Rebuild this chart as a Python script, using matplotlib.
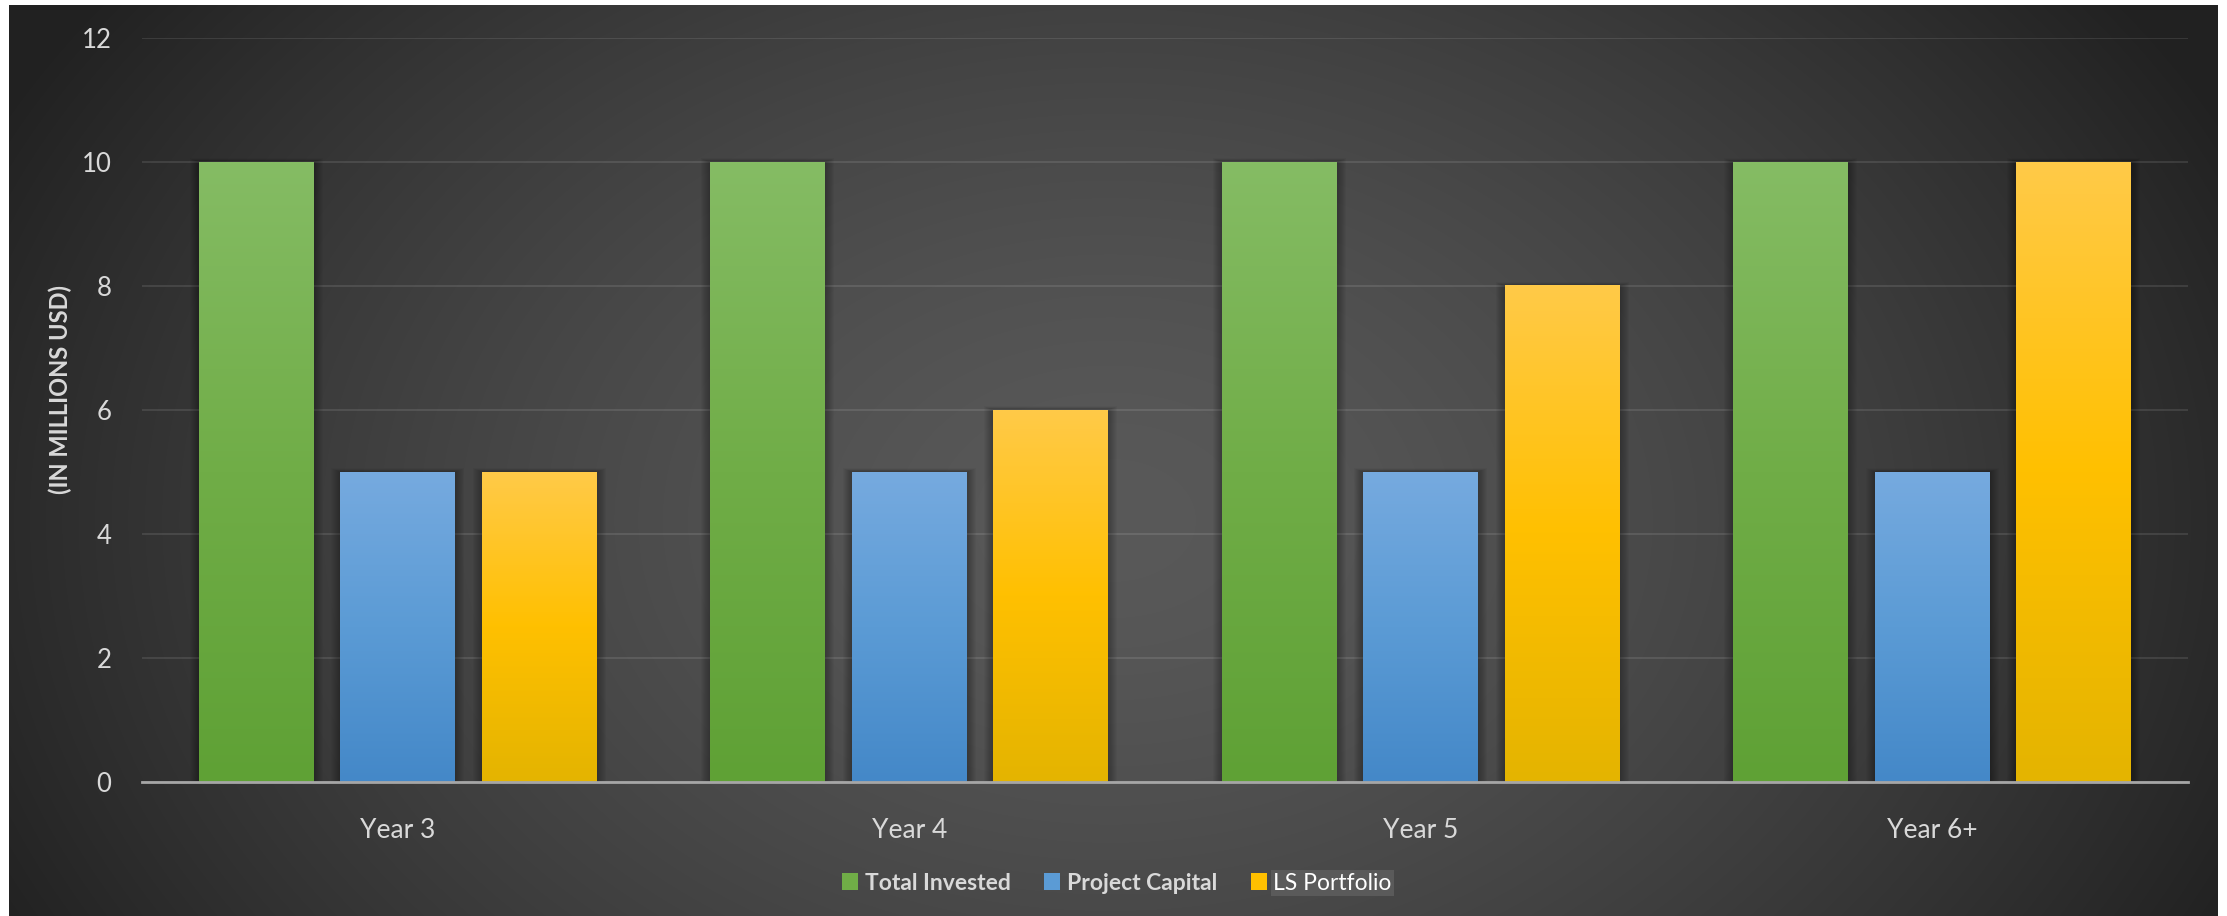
import numpy as np
import matplotlib
matplotlib.use("Agg")
import matplotlib.pyplot as plt
from matplotlib.patches import Rectangle, Patch
from matplotlib.colors import to_rgb

plt.rcParams['font.family'] = ['Lato', 'DejaVu Sans']

# data
categories = ['Year 3', 'Year 4', 'Year 5', 'Year 6+']
series_names = ['Total Invested', 'Project Capital', 'LS Portfolio']
total_invested = [10, 10, 10, 10]
project_capital = [5, 5, 5, 5]
ls_portfolio = [5, 6, 8, 10]
yticks = [0, 2, 4, 6, 8, 10, 12]

# gradient stops per series (top, middle, bottom)
grad_colors = [
    ['#85bc64', '#70ad47', '#5fa135'],
    ['#76aadf', '#5b9bd5', '#4488c8'],
    ['#ffca48', '#ffc000', '#e4b400'],
]
legend_colors = ['#70ad47', '#5b9bd5', '#ffc000']

W, H = 2227, 916
fig = plt.figure(figsize=(W / 100, H / 100), dpi=100, facecolor='white')

# background with radial gradient
bg = fig.add_axes([9 / W, 0, (2218 - 9) / W, (916 - 5) / H])
bg.set_axis_off()
yy, xx = np.mgrid[5:916, 9:2218]
r = np.sqrt(((xx - 1110) / 1250.0) ** 2 + ((yy - 520) / 900.0) ** 2)
f = np.clip(r, 0, 1) ** 1.5
val = (89 - 56 * f) / 255.0
bg.imshow(np.dstack([val, val, val]), aspect='auto', extent=[0, 1, 0, 1])
bg.set_xlim(0, 1)
bg.set_ylim(0, 1)

# plot area
left, right, top, bottom = 142, 2188, 38, 782
ax = fig.add_axes([left / W, 1 - bottom / H, (right - left) / W, (bottom - top) / H])
ax.patch.set_alpha(0)
ax.set_xlim(-0.5, len(categories) - 0.5)
ax.set_ylim(0, 12)

x = np.arange(len(categories))
width = 0.2248
step = 0.2766
px_x = (len(categories)) / (right - left)
px_y = 12.0 / (bottom - top)


def make_grad(stops, n=200):
    c = [np.array(to_rgb(s)) for s in stops]
    t = np.linspace(0, 1, n)[:, None]
    top_half = c[0] + (c[1] - c[0]) * np.clip(t * 2, 0, 1)
    bot_half = c[1] + (c[2] - c[1]) * np.clip(t * 2 - 1, 0, 1)
    g = np.where(t < 0.5, top_half, bot_half)
    return g[:, None, :]


all_values = [total_invested, project_capital, ls_portfolio]
for i, vals in enumerate(all_values):
    bars = ax.bar(x + (i - 1) * step, vals, width, color='none', zorder=3)
    grad = make_grad(grad_colors[i])
    for b in bars:
        bx, bw, bh = b.get_x(), b.get_width(), b.get_height()
        # soft shadow
        for k in range(1, 10):
            ax.add_patch(Rectangle((bx - k * px_x, 0), bw + 2 * k * px_x, bh + k * px_y * 0.4,
                                   facecolor='black', edgecolor='none', alpha=0.03, zorder=2))
        ax.imshow(grad, extent=[bx, bx + bw, 0, bh], aspect='auto', origin='upper',
                  zorder=3, interpolation='bilinear')

ax.set_xlim(-0.5, len(categories) - 0.5)
ax.set_ylim(0, 12)

# grid and axes
ax.set_yticks(yticks)
ax.yaxis.grid(True, color='white', alpha=0.1, linewidth=1.5, zorder=1)
ax.set_axisbelow(True)
for s in ['top', 'right', 'left']:
    ax.spines[s].set_visible(False)
ax.spines['bottom'].set_color('#a6a6a6')
ax.spines['bottom'].set_linewidth(2.0)
ax.spines['bottom'].set_zorder(5)

ax.set_xticks(x)
ax.set_xticklabels(categories)
ax.tick_params(axis='x', length=0, pad=26, labelsize=19, labelcolor='#d9d9d9')
ax.tick_params(axis='y', length=0, pad=22, labelsize=18.5, labelcolor='#d9d9d9')

fig.text(60 / W, 1 - 390 / H, '(IN MILLIONS USD)', rotation=90, ha='center', va='center',
         fontsize=17, fontweight='bold', color='#d9d9d9')

# legend
handles = [Patch(facecolor=c, edgecolor='none') for c in legend_colors]
leg = fig.legend(handles, series_names, loc='center', bbox_to_anchor=(1117 / W, 1 - 883 / H),
                 ncol=3, frameon=False, fontsize=16.5, handlelength=0.7, handleheight=0.7,
                 handletextpad=0.3, columnspacing=1.45)
for j, t in enumerate(leg.get_texts()):
    if j < 2:
        t.set_color('#d9d9d9')
        t.set_fontweight('bold')
    else:
        t.set_color('white')
        t.set_bbox(dict(facecolor='#5a5a5a', edgecolor='none', pad=1.5))

fig.savefig('out.png', dpi=100, facecolor='white')
